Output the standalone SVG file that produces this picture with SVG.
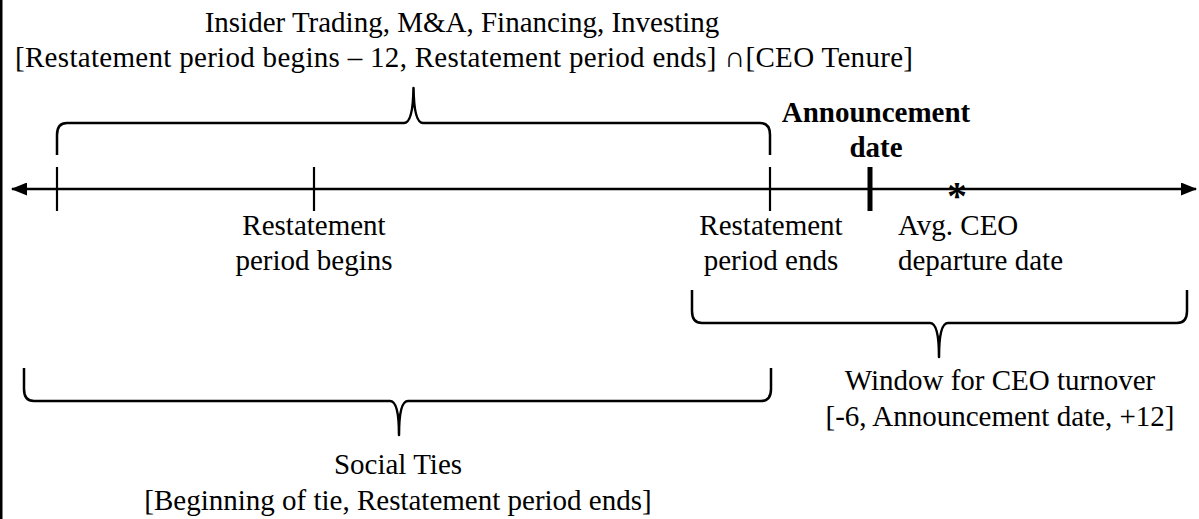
<svg xmlns="http://www.w3.org/2000/svg" width="1199" height="519" viewBox="0 0 1199 519">
<style>
text{font-family:"Liberation Serif","Times New Roman",serif;font-size:29px;fill:#000}
.c{text-anchor:middle}
.b{font-weight:bold}
.brace{fill:none;stroke:#000;stroke-width:2.5;stroke-linejoin:round}
.tick{stroke:#000;stroke-width:2.2}
</style>
<defs>
<marker id="ah" viewBox="0 0 16 13" refX="15" refY="6.5" markerWidth="16" markerHeight="13" markerUnits="userSpaceOnUse" orient="auto-start-reverse">
<path d="M0,0 L16,6.5 L0,13 Z" fill="#000"/>
</marker>
</defs>
<rect x="0" y="0" width="2.5" height="519" fill="#000"/>
<g id="connectors">
<line id="axis" x1="12" y1="189" x2="1196" y2="189" stroke="#000" stroke-width="2.5" marker-start="url(#ah)" marker-end="url(#ah)"/>
<path id="brace-top" class="brace" d="M57,155 L57,135 Q57,123 67,123 L404,123 Q413,123 413.5,88 Q414,123 423,123 L760,123 Q770,123 770,135 L770,155"/>
<path id="brace-window" class="brace" d="M692,290 L692,311 Q692,323 702,323 L930,323 Q939,323 939,357 Q939,323 948,323 L1177,323 Q1187,323 1187,311 L1187,290"/>
<path id="brace-social" class="brace" d="M24,368 L24,389 Q24,401 34,401 L390,401 Q399,401 399,435 Q399,401 408,401 L761,401 Q771,401 771,389 L771,368"/>
</g>
<g id="tick-start"><line class="tick" x1="57" y1="167" x2="57" y2="211"/></g>
<g id="tick-begins"><line class="tick" x1="314" y1="167" x2="314" y2="211"/></g>
<g id="tick-ends"><line class="tick" x1="770" y1="167" x2="770" y2="211"/></g>
<g id="tick-announcement"><line x1="870" y1="167" x2="870" y2="211" stroke="#000" stroke-width="5"/></g>
<g id="ceo-departure-mark"><text x="957" y="209" class="c b" style="font-size:40px">*</text></g>
<g id="label-insider">
<text x="462" y="32" class="c">Insider Trading, M&amp;A, Financing, Investing</text>
<text x="464" y="67" class="c" textLength="898" lengthAdjust="spacing">[Restatement period begins – 12, Restatement period ends] ∩[CEO Tenure]</text>
</g>
<g id="label-announcement">
<text x="876" y="122" class="c b">Announcement</text>
<text x="876" y="157" class="c b">date</text>
</g>
<g id="label-begins">
<text x="314" y="235" class="c">Restatement</text>
<text x="314" y="270" class="c">period begins</text>
</g>
<g id="label-ends">
<text x="771" y="235" class="c">Restatement</text>
<text x="771" y="270" class="c">period ends</text>
</g>
<g id="label-departure">
<text x="898" y="235">Avg. CEO</text>
<text x="898" y="270">departure date</text>
</g>
<g id="label-window">
<text x="1000" y="390" class="c">Window for CEO turnover</text>
<text x="1000" y="426" class="c">[-6, Announcement date, +12]</text>
</g>
<g id="label-social">
<text x="398" y="474" class="c">Social Ties</text>
<text x="398" y="510" class="c">[Beginning of tie, Restatement period ends]</text>
</g>
</svg>
